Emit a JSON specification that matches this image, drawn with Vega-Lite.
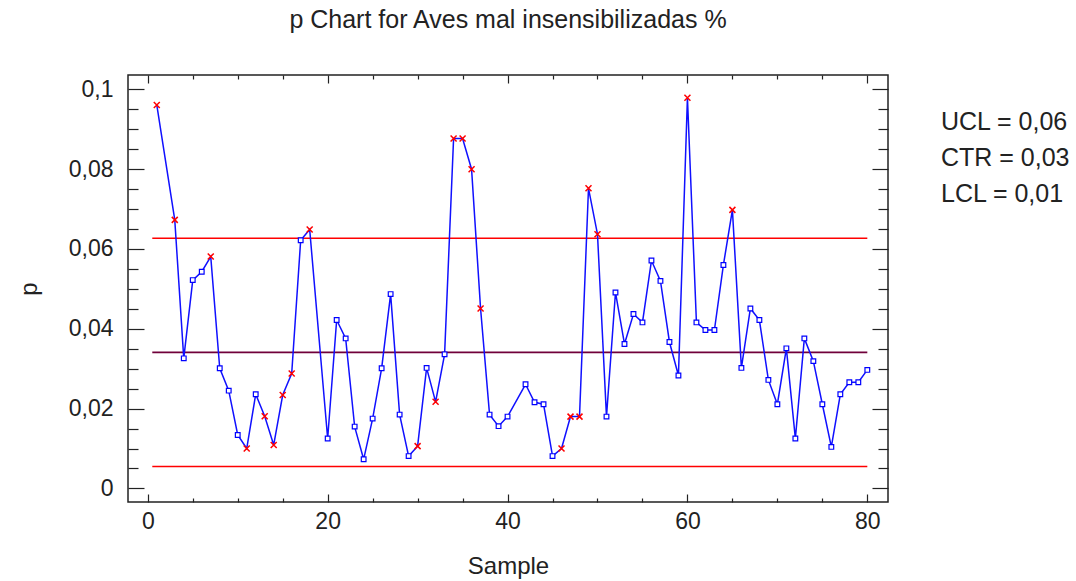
{
  "$schema": "https://vega.github.io/schema/vega-lite/v6.json",
  "width": 760,
  "height": 427,
  "autosize": "none",
  "padding": {"left": 128, "top": 75, "right": 188, "bottom": 79},
  "background": "white",
  "title": {"text": "p Chart for Aves mal insensibilizadas %", "fontSize": 25, "font": "Liberation Sans", "fontWeight": "normal", "color": "#222", "anchor": "middle", "baseline": "alphabetic", "offset": 21},
  "datasets": {
    "samples": [
      {"s": 1, "p": 0.0961, "status": "alert"},
      {"s": 3, "p": 0.0673, "status": "alert"},
      {"s": 4, "p": 0.0326, "status": "ok"},
      {"s": 5, "p": 0.0522, "status": "ok"},
      {"s": 6, "p": 0.0543, "status": "ok"},
      {"s": 7, "p": 0.0581, "status": "alert"},
      {"s": 8, "p": 0.0301, "status": "ok"},
      {"s": 9, "p": 0.0245, "status": "ok"},
      {"s": 10, "p": 0.0134, "status": "ok"},
      {"s": 11, "p": 0.0100, "status": "alert"},
      {"s": 12, "p": 0.0236, "status": "ok"},
      {"s": 13, "p": 0.0181, "status": "alert"},
      {"s": 14, "p": 0.0109, "status": "alert"},
      {"s": 15, "p": 0.0234, "status": "alert"},
      {"s": 16, "p": 0.0288, "status": "alert"},
      {"s": 17, "p": 0.0622, "status": "ok"},
      {"s": 18, "p": 0.0649, "status": "alert"},
      {"s": 20, "p": 0.0125, "status": "ok"},
      {"s": 21, "p": 0.0422, "status": "ok"},
      {"s": 22, "p": 0.0376, "status": "ok"},
      {"s": 23, "p": 0.0155, "status": "ok"},
      {"s": 24, "p": 0.0073, "status": "ok"},
      {"s": 25, "p": 0.0175, "status": "ok"},
      {"s": 26, "p": 0.0301, "status": "ok"},
      {"s": 27, "p": 0.0487, "status": "ok"},
      {"s": 28, "p": 0.0185, "status": "ok"},
      {"s": 29, "p": 0.0081, "status": "ok"},
      {"s": 30, "p": 0.0106, "status": "alert"},
      {"s": 31, "p": 0.0302, "status": "ok"},
      {"s": 32, "p": 0.0217, "status": "alert"},
      {"s": 33, "p": 0.0336, "status": "ok"},
      {"s": 34, "p": 0.0877, "status": "alert"},
      {"s": 35, "p": 0.0877, "status": "alert"},
      {"s": 36, "p": 0.0800, "status": "alert"},
      {"s": 37, "p": 0.0451, "status": "alert"},
      {"s": 38, "p": 0.0185, "status": "ok"},
      {"s": 39, "p": 0.0156, "status": "ok"},
      {"s": 40, "p": 0.0180, "status": "ok"},
      {"s": 42, "p": 0.0261, "status": "ok"},
      {"s": 43, "p": 0.0216, "status": "ok"},
      {"s": 44, "p": 0.0211, "status": "ok"},
      {"s": 45, "p": 0.0081, "status": "ok"},
      {"s": 46, "p": 0.0100, "status": "alert"},
      {"s": 47, "p": 0.0180, "status": "alert"},
      {"s": 48, "p": 0.0180, "status": "alert"},
      {"s": 49, "p": 0.0752, "status": "alert"},
      {"s": 50, "p": 0.0637, "status": "alert"},
      {"s": 51, "p": 0.0180, "status": "ok"},
      {"s": 52, "p": 0.0491, "status": "ok"},
      {"s": 53, "p": 0.0362, "status": "ok"},
      {"s": 54, "p": 0.0437, "status": "ok"},
      {"s": 55, "p": 0.0416, "status": "ok"},
      {"s": 56, "p": 0.0571, "status": "ok"},
      {"s": 57, "p": 0.0520, "status": "ok"},
      {"s": 58, "p": 0.0367, "status": "ok"},
      {"s": 59, "p": 0.0283, "status": "ok"},
      {"s": 60, "p": 0.0979, "status": "alert"},
      {"s": 61, "p": 0.0416, "status": "ok"},
      {"s": 62, "p": 0.0397, "status": "ok"},
      {"s": 63, "p": 0.0397, "status": "ok"},
      {"s": 64, "p": 0.0560, "status": "ok"},
      {"s": 65, "p": 0.0698, "status": "alert"},
      {"s": 66, "p": 0.0302, "status": "ok"},
      {"s": 67, "p": 0.0451, "status": "ok"},
      {"s": 68, "p": 0.0422, "status": "ok"},
      {"s": 69, "p": 0.0272, "status": "ok"},
      {"s": 70, "p": 0.0211, "status": "ok"},
      {"s": 71, "p": 0.0351, "status": "ok"},
      {"s": 72, "p": 0.0125, "status": "ok"},
      {"s": 73, "p": 0.0376, "status": "ok"},
      {"s": 74, "p": 0.0319, "status": "ok"},
      {"s": 75, "p": 0.0211, "status": "ok"},
      {"s": 76, "p": 0.0104, "status": "ok"},
      {"s": 77, "p": 0.0236, "status": "ok"},
      {"s": 78, "p": 0.0266, "status": "ok"},
      {"s": 79, "p": 0.0266, "status": "ok"},
      {"s": 80, "p": 0.0297, "status": "ok"}
    ],
    "limits": [
      {"label": "UCL = 0,06", "value": 0.0627, "start": 0.5, "end": 80},
      {"label": "CTR = 0,03", "value": 0.0341, "start": 0.5, "end": 80},
      {"label": "LCL = 0,01", "value": 0.0055, "start": 0.5, "end": 80}
    ]
  },
  "layer": [
    {
      "data": {"name": "limits"},
      "mark": {"type": "rule", "strokeWidth": 1.6},
      "encoding": {
        "x": {"field": "start", "type": "quantitative", "scale": {"domain": [-2.2, 82.3], "nice": false, "zero": false},
              "axis": {"orient": "top", "values": [5, 10, 15, 25, 30, 35, 45, 50, 55, 65, 70, 75], "tickSize": -4, "labels": false, "title": null}},
        "x2": {"field": "end"},
        "y": {"field": "value", "type": "quantitative", "scale": {"domain": [-0.0034, 0.1036], "nice": false, "zero": false},
              "axis": {"orient": "right", "values": [0.005, 0.01, 0.015, 0.025, 0.03, 0.035, 0.045, 0.05, 0.055, 0.065, 0.07, 0.075, 0.085, 0.09, 0.095], "tickSize": -10, "labels": false, "title": null}},
        "color": {"field": "label", "type": "nominal",
                  "scale": {"domain": ["UCL = 0,06", "CTR = 0,03", "LCL = 0,01"], "range": ["#ff0000", "#70003a", "#ff0000"]},
                  "legend": {"orient": "none", "legendX": 788, "legendY": 34, "title": null, "symbolSize": 0, "symbolStrokeWidth": 0, "symbolOpacity": 0, "labelOffset": 0, "labelFontSize": 25, "labelFont": "Liberation Sans", "labelColor": "#222", "rowPadding": 10, "padding": 0, "labelLimit": 300}}
      }
    },
    {
      "data": {"name": "samples"},
      "mark": {"type": "line", "color": "#1010ff", "strokeWidth": 1.5},
      "encoding": {
        "x": {"field": "s", "type": "quantitative", "scale": {"domain": [-2.2, 82.3], "nice": false, "zero": false},
              "axis": {"orient": "bottom", "values": [0, 20, 40, 60, 80], "tickSize": -8, "labelPadding": 16, "title": "Sample", "titlePadding": 21}},
        "y": {"field": "p", "type": "quantitative", "scale": {"domain": [-0.0034, 0.1036], "nice": false, "zero": false},
              "axis": {"orient": "left", "values": [0, 0.02, 0.04, 0.06, 0.08, 0.1], "tickSize": -16, "labelPadding": 31, "labelExpr": "replace(format(datum.value, '.2~f'), '.', ',')", "title": "p", "titlePadding": 27}}
      }
    },
    {
      "data": {"name": "samples"},
      "transform": [{"filter": "datum.status === 'ok'"}],
      "mark": {"type": "point", "shape": "square", "size": 22, "fill": "white", "stroke": "#0000ff", "strokeWidth": 1.2, "opacity": 1},
      "encoding": {
        "x": {"field": "s", "type": "quantitative", "scale": {"domain": [-2.2, 82.3], "nice": false, "zero": false},
              "axis": {"orient": "top", "values": [0, 20, 40, 60, 80], "tickSize": -8, "labels": false, "title": null}},
        "y": {"field": "p", "type": "quantitative", "scale": {"domain": [-0.0034, 0.1036], "nice": false, "zero": false},
              "axis": {"orient": "right", "values": [0, 0.02, 0.04, 0.06, 0.08, 0.1], "tickSize": -16, "labels": false, "title": null}}
      }
    },
    {
      "data": {"name": "samples"},
      "transform": [{"filter": "datum.status === 'alert'"}],
      "mark": {"type": "point", "shape": "M-1,-1L1,1M1,-1L-1,1", "size": 36, "filled": false, "stroke": "#ff0000", "strokeWidth": 1.5, "opacity": 1},
      "encoding": {
        "x": {"field": "s", "type": "quantitative", "scale": {"domain": [-2.2, 82.3], "nice": false, "zero": false},
              "axis": {"orient": "bottom", "values": [5, 10, 15, 25, 30, 35, 45, 50, 55, 65, 70, 75], "tickSize": -4, "labels": false, "title": null}},
        "y": {"field": "p", "type": "quantitative", "scale": {"domain": [-0.0034, 0.1036], "nice": false, "zero": false},
              "axis": {"orient": "left", "values": [0.005, 0.01, 0.015, 0.025, 0.03, 0.035, 0.045, 0.05, 0.055, 0.065, 0.07, 0.075, 0.085, 0.09, 0.095], "tickSize": -10, "labels": false, "title": null}}
      }
    }
  ],
  "resolve": {"axis": {"x": "independent", "y": "independent"}},
  "config": {
    "view": {"stroke": "#222", "strokeWidth": 1.5},
    "axis": {"domain": false, "grid": false, "ticks": true, "tickColor": "#222", "tickWidth": 1.2,
             "labelFont": "Liberation Sans", "titleFont": "Liberation Sans", "labelFontSize": 23, "titleFontSize": 24,
             "labelColor": "#222", "titleColor": "#222", "titleFontWeight": "normal"}
  }
}
